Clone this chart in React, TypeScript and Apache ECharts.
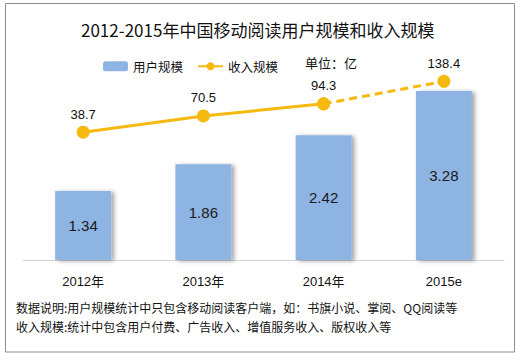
import React, { useEffect, useRef } from "react";
import * as echarts from "echarts";

const categories = ["2012年", "2013年", "2014年", "2015e"];
const userScale = [1.34, 1.86, 2.42, 3.28];
const revenue = [38.7, 70.5, 94.3, 138.4];
const forecastStart = 2;

const titleText = "2012-2015年中国移动阅读用户规模和收入规模";
const unitText = "单位：亿";
const noteLines = [
  "数据说明:用户规模统计中只包含移动阅读客户端，如：书旗小说、掌阅、QQ阅读等",
  "收入规模:统计中包含用户付费、广告收入、增值服务收入、版权收入等",
];

const FONT = "'Liberation Sans', 'Noto Sans CJK SC', sans-serif";
const CJK = "'Noto Sans CJK SC', sans-serif";
const GOLD = "#F5B90F";
const BLUE = "#8EB4E3";

export default function App() {
  const ref = useRef<HTMLDivElement>(null);
  useEffect(() => {
    if (!ref.current) return;
    const chart = echarts.init(ref.current, null, { renderer: "svg" });
    const solid = revenue.map((v, i) => (i <= forecastStart ? v : null));
    const dashed = revenue.map((v, i) => (i >= forecastStart ? v : null));
    chart.setOption({
      animation: false,
      backgroundColor: "#fff",
      textStyle: { fontFamily: FONT },
      title: {
        text: titleText,
        left: 76,
        top: 16,
        textStyle: { fontFamily: CJK, fontSize: 17, fontWeight: "normal", color: "#111" },
      },
      legend: {
        left: 98,
        top: 55,
        itemWidth: 25,
        itemHeight: 10,
        itemGap: 14,
        data: ["用户规模", "收入规模"],
        textStyle: { fontFamily: CJK, fontSize: 12.5, color: "#111" },
      },
      grid: { left: 23, right: 16, top: 54, height: 206 },
      xAxis: {
        type: "category",
        data: categories,
        axisLine: { lineStyle: { color: "#d4d4d4" } },
        axisTick: { show: false },
        axisLabel: { color: "#111", fontSize: 13, margin: 15, fontFamily: FONT },
      },
      yAxis: [
        { type: "value", min: 0, max: 4, show: false, splitLine: { show: false } },
        { type: "value", min: -212, max: 192, show: false, splitLine: { show: false } },
      ],
      series: [
        {
          name: "用户规模",
          type: "bar",
          data: userScale,
          barWidth: 56,
          itemStyle: {
            color: BLUE,
            shadowColor: "rgba(0,0,0,0.35)",
            shadowBlur: 4,
            shadowOffsetX: 3,
            shadowOffsetY: 1,
          },
          label: { show: true, position: "inside", fontSize: 15, color: "#1a1a1a", fontFamily: FONT },
        },
        {
          name: "收入规模",
          type: "line",
          yAxisIndex: 1,
          data: solid,
          symbol: "circle",
          symbolSize: 13,
          lineStyle: { color: GOLD, width: 3 },
          itemStyle: { color: GOLD },
          label: { show: true, position: "top", fontSize: 13, color: "#111", fontFamily: FONT },
        },
        {
          name: "收入规模",
          type: "line",
          yAxisIndex: 1,
          data: dashed,
          symbol: "circle",
          symbolSize: 13,
          lineStyle: { color: GOLD, width: 3, type: [8, 5] },
          itemStyle: { color: GOLD },
          label: {
            show: true,
            position: "top",
            fontSize: 13,
            color: "#111",
            fontFamily: FONT,
            formatter: (p: any) => (p.dataIndex === revenue.length - 1 ? String(p.value) : ""),
          },
        },
      ],
      graphic: [
        {
          type: "rect",
          shape: { x: 5.5, y: 3.5, width: 509, height: 348.5 },
          style: { fill: "none", stroke: "#8c8c8c", lineWidth: 1 },
          silent: true,
        },
        {
          type: "text",
          x: 305,
          y: 56,
          style: { text: unitText, fontFamily: CJK, fontSize: 13, fill: "#111" },
        },
        {
          type: "text",
          x: 16,
          y: 301,
          style: { text: noteLines[0], fontFamily: CJK, fontSize: 12, fill: "#111" },
        },
        {
          type: "text",
          x: 16,
          y: 320,
          style: { text: noteLines[1], fontFamily: CJK, fontSize: 12, fill: "#111" },
        },
      ],
    });
    return () => chart.dispose();
  }, []);
  return (
    <div
      ref={ref}
      style={{ position: "fixed", left: 0, top: 0, width: 520, height: 359 }}
    />
  );
}
